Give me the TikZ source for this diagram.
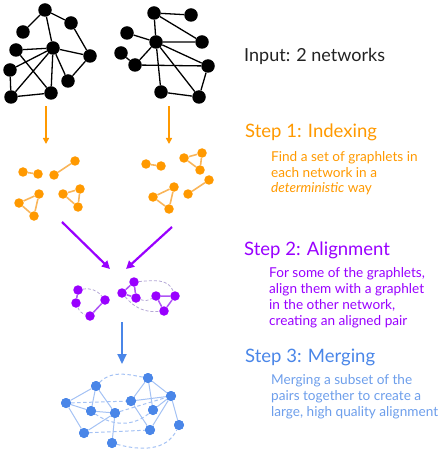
\documentclass[tikz,border=0pt]{standalone}
\usepackage{fontspec}
\setmainfont{Lato}
\usetikzlibrary{arrows.meta}
\definecolor{ora}{HTML}{FF9900}
\definecolor{oraL}{HTML}{F9B55A}
\definecolor{pur}{HTML}{9900FF}
\definecolor{purL}{HTML}{AE55F5}
\definecolor{lav}{HTML}{B4A7D6}
\definecolor{blu}{HTML}{4A86E8}
\definecolor{bluT}{HTML}{6D9EEB}
\definecolor{bluL}{HTML}{A4C2F4}
\definecolor{ink}{HTML}{222222}
\begin{document}
\begin{tikzpicture}[x=1pt,y=-1pt,
  bk/.style={circle,fill=black,inner sep=0,minimum size=13.5pt},
  bkedge/.style={line width=1.3pt,black},
  on/.style={circle,fill=ora,inner sep=0,minimum size=9.5pt},
  oedge/.style={line width=1.6pt,oraL},
  pn/.style={circle,fill=pur,inner sep=0,minimum size=9.5pt},
  pedge/.style={line width=1.5pt,purL},
  pdash/.style={line width=0.8pt,lav,dash pattern=on 3pt off 2pt},
  bn/.style={circle,fill=blu,inner sep=0,minimum size=10pt},
  bedge/.style={line width=1pt,bluL},
  bdash/.style={line width=1pt,bluL,dash pattern=on 3.5pt off 2.5pt},
  oarrow/.style={line width=1.6pt,ora,-{Triangle[width=6pt,length=6pt]}},
  parrow/.style={line width=2.2pt,pur,-{Triangle[width=8pt,length=8pt]}},
  barrow/.style={line width=2pt,blu,-{Triangle[width=9pt,length=10pt]}},
  head/.style={anchor=base west,inner sep=0,font=\fontsize{18.5}{22}\selectfont},
  body/.style={anchor=base west,inner sep=0,align=left,font=\fontsize{13.6}{15.8}\selectfont},
]
\useasboundingbox (0,0) rectangle (447,462);

% ---------- network 1 ----------
\node[bk] (A) at (45,10) {};
\node[bk] (B) at (23,32) {};
\node[bk] (C) at (71,23) {};
\node[bk] (D) at (53,48) {};
\node[bk] (E) at (16,50) {};
\node[bk] (F) at (90,56) {};
\node[bk] (G) at (10,70) {};
\node[bk] (H) at (68,81) {};
\node[bk] (I) at (51,93) {};
\node[bk] (J) at (11,97) {};
\draw[bkedge] (A)--(B) (A)--(C) (A)--(D) (C)--(F) (D)--(F) (F)--(H) (D)--(H)
  (D)--(E) (D)--(G) (D)--(J) (D)--(I) (E)--(I) (G)--(J) (J)--(I);

% ---------- network 2 ----------
\node[bk] (a) at (154,13) {};
\node[bk] (b) at (191,15) {};
\node[bk] (c) at (127,33) {};
\node[bk] (d) at (156,42) {};
\node[bk] (e) at (202,42) {};
\node[bk] (f) at (121,53) {};
\node[bk] (g) at (135,65) {};
\node[bk] (h) at (208,66) {};
\node[bk] (i) at (161,92) {};
\node[bk] (j) at (199,97) {};
\draw[bkedge] (a)--(b) (a)--(e) (a)--(d) (c)--(d) (d)--(e) (d)--(g) (d)--(h)
  (d)--(i) (d)--(j) (f)--(g) (g)--(h) (h)--(j) (i)--(j);

% ---------- orange arrows ----------
\coordinate (oa1s) at (46,106);
\coordinate (oa1e) at (46,144);
\coordinate (oa2s) at (169,106);
\coordinate (oa2e) at (169,144);
\draw[oarrow] (oa1s)--(oa1e);
\draw[oarrow] (oa2s)--(oa2e);

% ---------- orange graphlets ----------
\node[on] (o1) at (23,172) {};
\node[on] (o2) at (38,174) {};
\node[on] (o3) at (54,175) {};
\node[on] (o4) at (75,161) {};
\node[on] (o5) at (19,203) {};
\node[on] (o6) at (39,194) {};
\node[on] (o7) at (34,216) {};
\node[on] (o8) at (63,194) {};
\node[on] (o9) at (80,189) {};
\node[on] (o10) at (78,207) {};
\draw[oedge] (o1)--(o2) (o3)--(o4) (o5)--(o6)--(o7)--(o5) (o8)--(o9)--(o10)--(o8);
\node[on] (r1) at (146,164) {};
\node[on] (r2) at (161,166) {};
\node[on] (r3) at (184,158) {};
\node[on] (r4) at (202,153) {};
\node[on] (r5) at (200,170) {};
\node[on] (r6) at (153,197) {};
\node[on] (r7) at (174,187) {};
\node[on] (r8) at (169,209) {};
\node[on] (r9) at (188,194) {};
\node[on] (r10) at (209,180) {};
\draw[oedge] (r1)--(r2) (r3)--(r4)--(r5)--(r3) (r6)--(r7)--(r8)--(r6) (r9)--(r10);

% ---------- purple arrows ----------
\coordinate (pa1s) at (62,222);
\coordinate (pa1e) at (110,269);
\coordinate (pa2s) at (172,227);
\coordinate (pa2e) at (126,269);
\draw[parrow] (pa1s)--(pa1e);
\draw[parrow] (pa2s)--(pa2e);

% ---------- purple aligned pairs ----------
\node[pn] (p1) at (78,290) {};
\node[pn] (p2) at (76,303) {};
\node[pn] (p3) at (105,300) {};
\node[pn] (p4) at (90,316) {};
\node[pn] (q1) at (122,293) {};
\node[pn] (q2) at (134,282) {};
\node[pn] (q3) at (136,298) {};
\node[pn] (s1) at (156,296) {};
\node[pn] (s2) at (175,296) {};
\node[pn] (s3) at (164,311) {};
\draw[pdash] (p1) to[bend left=30] (p3);
\draw[pdash] (p2) to[bend right=25] (p4);
\draw[pdash] (q2) to[out=5,in=110] (s2);
\draw[pdash] (q3) to[bend right=25] (s1);
\draw[pdash] (q1) to[out=-50,in=185] (s3);
\draw[pedge] (p1)--(p2) (p3)--(p4) (q1)--(q2)--(q3)--(q1) (s1)--(s2)--(s3)--(s1);

% ---------- blue arrow ----------
\coordinate (bas) at (122,322);
\coordinate (bae) at (122,364);
\draw[barrow] (bas)--(bae);

% ---------- merged graph ----------
\node[bn] (n1) at (66,403) {};
\node[bn] (n2) at (96,386) {};
\node[bn] (n3) at (91,411) {};
\node[bn] (n4) at (115,413) {};
\node[bn] (n5) at (84,433) {};
\node[bn] (n6) at (112,443) {};
\node[bn] (n7) at (131,401) {};
\node[bn] (n8) at (148,378) {};
\node[bn] (n9) at (171,396) {};
\node[bn] (n10) at (153,410) {};
\node[bn] (n11) at (150,430) {};
\node[bn] (n12) at (179,425) {};
\draw[bdash] (n1)--(n7);
\draw[bdash] (n2) to[out=45,in=170] (n8);
\draw[bdash] (n4)--(n9);
\draw[bdash] (n3) to[out=-35,in=-140] (n10);
\draw[bdash] (n5)--(n11);
\draw[bdash] (n6) to[out=-15,in=-115] (n12);
\draw[bedge] (n1)--(n2) (n1)--(n3) (n1)--(n5) (n2)--(n3) (n2)--(n4) (n3)--(n4)
  (n4)--(n5) (n4)--(n6);
\draw[bedge] (n7)--(n8) (n7)--(n9) (n7)--(n11) (n8)--(n9) (n8)--(n10) (n10)--(n9)
  (n9)--(n11) (n9)--(n12);
\foreach \n in {n1,n2,n3,n4,n5,n6,n7,n8,n9,n10,n11,n12}{\fill[blu] (\n) circle (5pt);}

% ---------- texts ----------
\node[head,text=ink,font=\fontsize{18}{22}\selectfont] (t0) at (244,62) {Input: 2 networks};
\node[head,text=ora] (t1) at (245,138) {Step 1: Indexing};
\node[body,text=ora] (b1) at (271,193) {Find a set of graphlets in\\each network in a\\\textit{deterministic} way};
\node[head,text=pur] (t2) at (244,255) {Step 2: Alignment};
\node[body,text=pur] (b2) at (269,325) {For some of the graphlets,\\align them with a graphlet\\in the other network,\\creating an aligned pair};
\node[head,text=blu] (t3) at (245,362) {Step 3: Merging};
\node[body,text=bluT] (b3) at (271,416) {Merging a subset of the\\pairs together to create a\\large, high quality alignment};
\end{tikzpicture}
\end{document}
